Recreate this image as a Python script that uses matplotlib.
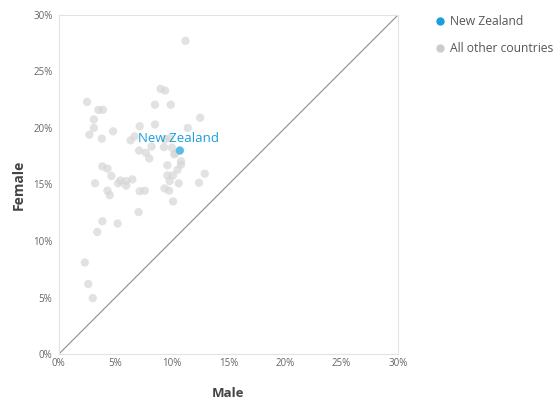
import matplotlib
matplotlib.use("Agg")
import matplotlib.pyplot as plt
from matplotlib.ticker import FuncFormatter
from matplotlib.lines import Line2D

plt.rcParams['font.family'] = ['Open Sans', 'DejaVu Sans']

# Male (%) and Female (%) for all other countries
other_male = [11.2, 9.0, 9.4, 2.5, 8.5, 9.9, 3.5, 3.9, 12.5, 3.1, 8.5, 7.15, 3.1, 11.4,
              4.8, 2.7, 3.8, 6.7, 6.35, 9.4, 9.8, 8.2, 7.1, 7.7, 9.3, 10.0, 10.3, 10.2,
              8.0, 10.8, 10.8, 9.6, 3.85, 4.3, 10.5, 12.9, 4.65, 9.6, 10.1, 9.8, 5.45,
              5.95, 6.5, 5.25, 5.95, 3.2, 10.6, 12.4, 4.3, 4.5, 7.15, 7.6, 9.35, 9.75,
              10.1, 7.05, 3.85, 5.2, 3.4, 2.3, 2.6, 3.0]
other_female = [27.7, 23.45, 23.3, 22.3, 22.05, 22.05, 21.6, 21.6, 20.9, 20.75, 20.3, 20.15,
                20.0, 20.0, 19.7, 19.4, 19.05, 19.25, 18.9, 19.0, 19.1, 18.35, 18.0, 17.8,
                18.3, 18.25, 17.75, 17.65, 17.3, 17.05, 16.75, 16.7, 16.6, 16.4, 16.3, 15.95,
                15.75, 15.8, 15.8, 15.3, 15.35, 15.3, 15.45, 15.1, 14.9, 15.1, 15.1, 15.15,
                14.45, 14.05, 14.4, 14.45, 14.65, 14.45, 13.5, 12.55, 11.75, 11.55, 10.8,
                8.1, 6.2, 4.95]
nz_male = [10.7]
nz_female = [18.0]

ticks = [0, 5, 10, 15, 20, 25, 30]

fig = plt.figure(figsize=(5.6, 4.01), dpi=100)
ax = fig.add_axes([0.105, 0.117, 0.606, 0.846])

ax.plot([0, 30], [0, 30], color='#8c8c8c', lw=0.8, zorder=1)
ax.scatter(other_male, other_female, s=36, color='#d6d6d6', alpha=0.7,
           edgecolors='none', zorder=2)
ax.scatter(nz_male, nz_female, s=36, color='#5bbde6', edgecolors='none', zorder=3)
ax.text(nz_male[0] - 0.1, nz_female[0] + 0.45, 'New Zealand', color='#1a9fd9',
        fontsize=9.5, ha='center', va='bottom', zorder=4)

ax.set_xlim(0, 30)
ax.set_ylim(0, 30)
ax.set_xticks(ticks)
ax.set_yticks(ticks)
fmt = FuncFormatter(lambda v, p: f'{v:.0f}%')
ax.xaxis.set_major_formatter(fmt)
ax.yaxis.set_major_formatter(fmt)
ax.tick_params(length=0, labelsize=7, labelcolor='#666666')
ax.tick_params(axis='x', pad=2.5)
ax.tick_params(axis='y', pad=4.5)
for s in ax.spines.values():
    s.set_color('#e3e3e3')
    s.set_linewidth(0.8)

ax.set_xlabel('Male', fontsize=9.5, fontweight='bold', color='#444444', labelpad=13)
ax.set_ylabel('Female', fontsize=10, fontweight='bold', color='#444444', labelpad=5)

handles = [Line2D([], [], marker='o', ls='none', color='#1a9fd9', markersize=5),
           Line2D([], [], marker='o', ls='none', color='#cccccc', markersize=5)]
fig.legend(handles, ['New Zealand', 'All other countries'], loc='upper left',
           bbox_to_anchor=(0.755, 0.99), frameon=False, fontsize=8.7,
           labelcolor='#555555', handletextpad=0.35, labelspacing=1.15,
           handlelength=1.0)

fig.savefig('out.png', dpi=100)
